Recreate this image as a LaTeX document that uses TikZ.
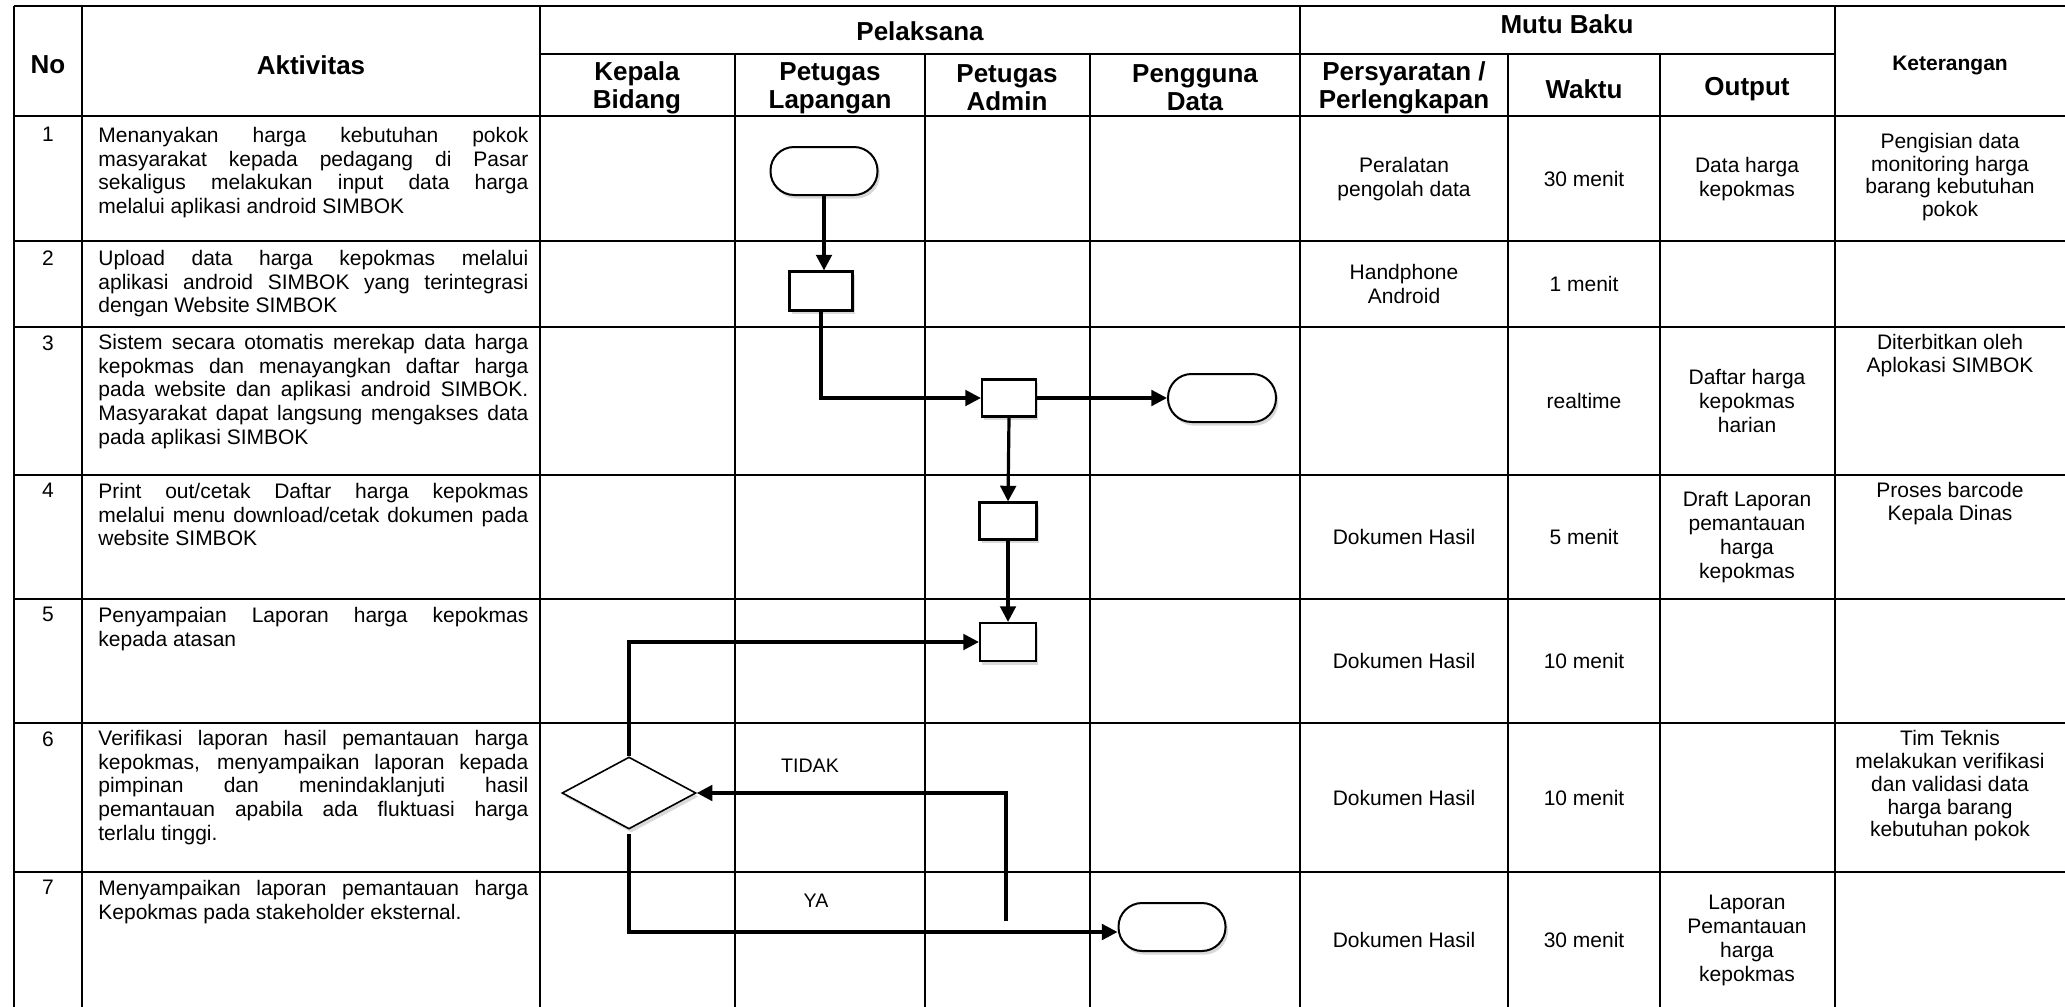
\documentclass[tikz,border=0pt]{standalone}
\usepackage{fontspec}
\setmainfont{Liberation Sans}
\usetikzlibrary{arrows.meta,shapes.geometric,shadows}
\begin{document}
\begin{tikzpicture}[x=0.5pt,y=-0.5pt,
  hline/.style={line width=1.1pt},
  vline/.style={line width=0.85pt},
  hdr/.style={font=\fontsize{13}{14}\selectfont\bfseries, align=center, inner sep=0pt},
  hdrsmall/.style={font=\fontsize{10.5}{12}\selectfont\bfseries, align=center, inner sep=0pt},
  body/.style={font=\fontsize{10.5}{12}\selectfont, align=center, inner sep=0pt},
  akt/.style={font=\fontsize{10.5}{11.8}\selectfont, text width=215pt, align=justify, anchor=north west, inner sep=0pt},
  num/.style={font=\fontsize{10.5}{12}\selectfont, anchor=north, inner sep=0pt},
  ket/.style={font=\fontsize{10.5}{11.4}\selectfont, align=center, anchor=north, inner sep=0pt},
  lbl/.style={font=\fontsize{9.8}{11}\selectfont, inner sep=0pt},
  shd/.style={drop shadow={shadow xshift=1.2pt, shadow yshift=-1.8pt, opacity=0.15, fill=black}},
  term/.style={draw, line width=1pt, fill=white, rounded corners=11.8pt, minimum width=53.5pt, minimum height=24pt, inner sep=0pt, shd},
  proc/.style={draw, line width=1.1pt, fill=white, inner sep=0pt, shd},
  dec/.style={draw, diamond, line width=0.8pt, fill=white, inner sep=0pt, minimum width=67pt, minimum height=36pt, shd},
  arr/.style={line width=1.6pt, -{Triangle[length=7.8pt,width=7.8pt]}},
  ln/.style={line width=1.6pt}
]
\useasboundingbox (0,0) rectangle (2065,1006);
\fill[white] (0,0) rectangle (2065,1006);

% ---------- table: horizontal lines ----------
\draw[hline] (14,6) -- (2068,6);
\draw[hline] (540,54) -- (1835,54);
\draw[hline] (14,116) -- (2068,116);
\foreach \yy in {241,327,475,599,723,872,1010}
  \draw[hline] (14,\yy) -- (2068,\yy);
% ---------- table: vertical lines ----------
\foreach \xx in {14,82,540,1300,1835,2068}
  \draw[vline] (\xx,6) -- (\xx,1010);
\foreach \xx in {735,925,1090,1508,1660}
  \draw[vline] (\xx,54) -- (\xx,1010);

% ---------- header ----------
\node[hdr] (hNo) at (48,65) {No};
\node[hdr] (hAkt) at (311,65) {Aktivitas};
\node[hdr] (hPel) at (920,31) {Pelaksana};
\node[hdr] (hMutu) at (1567,24) {Mutu Baku};
\node[hdr] (hKB) at (637,88) {Kepala\\Bidang};
\node[hdr] (hPL) at (830,88) {Petugas\\Lapangan};
\node[hdr] (hPA) at (1007,88) {Petugas\\Admin};
\node[hdr] (hPD) at (1195,88) {Pengguna\\Data};
\node[hdr] (hPers) at (1404,88) {Persyaratan /\\Perlengkapan};
\node[hdr] (hW) at (1584,89) {Waktu};
\node[hdr] (hO) at (1747,89) {Output};
\node[hdrsmall] (hK) at (1950,66) {Keterangan};

% ---------- numbers ----------
\node[num] (n1) at (48,127) {1};
\node[num] (n2) at (48,250) {2};
\node[num] (n3) at (48,335) {3};
\node[num] (n4) at (48,483) {4};
\node[num] (n5) at (48,607) {5};
\node[num] (n6) at (48,731) {6};
\node[num] (n7) at (48,880) {7};

% ---------- activities ----------
\node[akt] (a1) at (98,127) {Menanyakan harga kebutuhan pokok\linebreak masyarakat kepada pedagang di Pasar\linebreak sekaligus melakukan input data harga\linebreak melalui aplikasi android SIMBOK};
\node[akt] (a2) at (98,250) {Upload data harga kepokmas melalui\linebreak aplikasi android SIMBOK yang terintegrasi\linebreak dengan Website SIMBOK};
\node[akt] (a3) at (98,334) {Sistem secara otomatis merekap data harga\linebreak kepokmas dan menayangkan daftar harga\linebreak pada website dan aplikasi android SIMBOK.\linebreak Masyarakat dapat langsung mengakses data\linebreak pada aplikasi SIMBOK};
\node[akt] (a4) at (98,483) {Print out/cetak Daftar harga kepokmas\linebreak melalui menu download/cetak dokumen pada\linebreak website SIMBOK};
\node[akt] (a5) at (98,607) {Penyampaian Laporan harga kepokmas\linebreak kepada atasan};
\node[akt] (a6) at (98,730) {Verifikasi laporan hasil pemantauan harga\linebreak kepokmas, menyampaikan laporan kepada\linebreak pimpinan dan menindaklanjuti hasil\linebreak pemantauan apabila ada fluktuasi harga\linebreak terlalu tinggi.};
\node[akt] (a7) at (98,880) {Menyampaikan laporan pemantauan harga\linebreak Kepokmas pada stakeholder eksternal.};

% ---------- persyaratan ----------
\node[body] (p1) at (1404,179) {Peralatan\\pengolah data};
\node[body] (p2) at (1404,284) {Handphone\\Android};
\node[body] (p4) at (1404,537) {Dokumen Hasil};
\node[body] (p5) at (1404,661) {Dokumen Hasil};
\node[body] (p6) at (1404,798) {Dokumen Hasil};
\node[body] (p7) at (1404,940) {Dokumen Hasil};
% ---------- waktu ----------
\node[body] (w1) at (1584,179) {30 menit};
\node[body] (w2) at (1584,284) {1 menit};
\node[body] (w3) at (1584,401) {realtime};
\node[body] (w4) at (1584,537) {5 menit};
\node[body] (w5) at (1584,661) {10 menit};
\node[body] (w6) at (1584,798) {10 menit};
\node[body] (w7) at (1584,940) {30 menit};
% ---------- output ----------
\node[body] (o1) at (1747,179) {Data harga\\kepokmas};
\node[body] (o3) at (1747,401) {Daftar harga\\kepokmas\\harian};
\node[body] (o4) at (1747,537) {Draft Laporan\\pemantauan\\harga\\kepokmas};
\node[body] (o7) at (1747,940) {Laporan\\Pemantauan\\harga\\kepokmas};
% ---------- keterangan ----------
\node[body, font=\fontsize{10.5}{11.4}\selectfont] (k1) at (1950,177) {Pengisian data\\monitoring harga\\barang kebutuhan\\pokok};
\node[ket] (k3) at (1950,334) {Diterbitkan oleh\\Aplokasi SIMBOK};
\node[ket] (k4) at (1950,482) {Proses barcode\\Kepala Dinas};
\node[ket] (k6) at (1950,730) {Tim Teknis\\melakukan verifikasi\\dan validasi data\\harga barang\\kebutuhan pokok};

% ---------- flowchart ----------
\node[term] (T1) at (824,171) {};
\node[proc, minimum width=31.5pt, minimum height=19.5pt] (R1) at (821,291) {};
\node[proc, minimum width=27pt, minimum height=18.5pt] (R2) at (1009,398) {};
\node[term, minimum width=54pt] (T2) at (1222,398) {};
\node[proc, minimum width=28.5pt, minimum height=18.5pt] (R3) at (1008,521) {};
\node[proc, minimum width=28pt, minimum height=19pt] (R4) at (1008,642) {};
\node[dec] (D) at (629,793) {};
\node[term] (T3) at (1172,927) {};
\coordinate (ret) at (1006,921);

\draw[arr] (T1.south) -- (T1.south |- R1.north);
\draw[arr] (R1.south) |- (R2.west);
\draw[arr] (R2.east) -- (T2.west);
\draw[arr] (R2.south) -- (R3.north);
\draw[arr] (R3.south) -- (R4.north);
\draw[arr] (D.north) |- (R4.west);
\draw[arr] (ret) |- (D.east);
\draw[arr] ([yshift=-2pt]D.south) |- ([yshift=-2.5pt]T3.west);

\node[lbl] (lT) at (810,766) {TIDAK};
\node[lbl] (lY) at (816,901) {YA};
\end{tikzpicture}
\end{document}
